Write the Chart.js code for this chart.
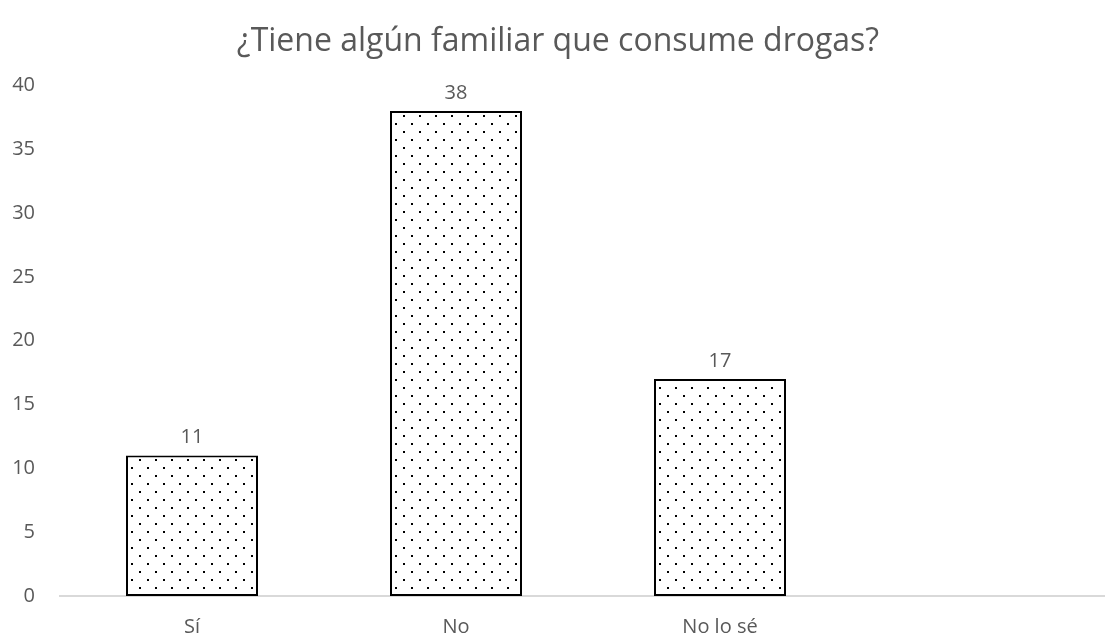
<!DOCTYPE html>
<html>
<head>
<meta charset="utf-8">
<script src="https://cdn.jsdelivr.net/npm/chart.js@4"></script>
<style>
  html, body { margin: 0; padding: 0; background: #fff; overflow: hidden; }
  #wrap { width: 1122px; height: 637px; position: relative; }
</style>
</head>
<body>
<div id="wrap"><canvas id="chart"></canvas></div>
<script>
// Data
const categories = ['Sí', 'No', 'No lo sé', ''];
const counts = [11, 38, 17, null];
const yTicks = { min: 0, max: 40, step: 5 };

const TEXT_GREY = '#595959';
const FONT = '"Open Sans", "Noto Sans", sans-serif';

// dotted fill like the Excel "5%" pattern
function makeDots() {
    const c = document.createElement('canvas');
    c.width = 16; c.height = 16;
    const g = c.getContext('2d');
    g.fillStyle = '#fff';
    g.fillRect(0, 0, 16, 16);
    g.fillStyle = '#000';
    g.fillRect(3, 3, 2, 2);
    g.fillRect(11, 11, 2, 2);
    return g.createPattern(c, 'repeat');
}

// simple value labels above the bars
const valueLabels = {
    id: 'valueLabels',
    afterDatasetsDraw(chart) {
        const ctx = chart.ctx;
        const meta = chart.getDatasetMeta(0);
        ctx.save();
        ctx.fillStyle = TEXT_GREY;
        ctx.font = '20px ' + FONT;
        ctx.textAlign = 'center';
        ctx.textBaseline = 'middle';
        meta.data.forEach((bar, i) => {
            const v = counts[i];
            if (v === null || v === undefined) return;
            ctx.fillText(String(v), bar.x, bar.y - 18);
        });
        ctx.restore();
    }
};

new Chart(document.getElementById('chart'), {
    type: 'bar',
    data: {
        labels: categories,
        datasets: [{
            data: counts,
            backgroundColor: makeDots(),
            borderColor: '#000',
            borderWidth: 2,
            borderSkipped: false,
            barPercentage: 1,
            categoryPercentage: 0.5
        }]
    },
    options: {
        responsive: true,
        maintainAspectRatio: false,
        animation: false,
        layout: { padding: { top: 21, right: 6, bottom: 0, left: 0 } },
        plugins: {
            legend: { display: false },
            tooltip: { enabled: false },
            title: {
                display: true,
                text: '¿Tiene algún familiar que consume drogas?',
                color: TEXT_GREY,
                font: { family: FONT, size: 32, weight: 'normal' },
                padding: { top: 2, bottom: 24 }
            }
        },
        scales: {
            x: {
                grid: { display: false },
                border: { display: true, color: '#d9d9d9', width: 2 },
                ticks: { color: TEXT_GREY, font: { family: FONT, size: 20 }, padding: 11, maxRotation: 0 },
                afterFit(scale) { scale.height = 41; }
            },
            y: {
                min: yTicks.min,
                max: yTicks.max,
                grid: { display: false },
                border: { display: false },
                ticks: { stepSize: yTicks.step, color: TEXT_GREY, font: { family: FONT, size: 20 }, padding: 17 },
                afterFit(scale) { scale.width = 60; }
            }
        }
    },
    plugins: [valueLabels]
});
</script>
</body>
</html>
